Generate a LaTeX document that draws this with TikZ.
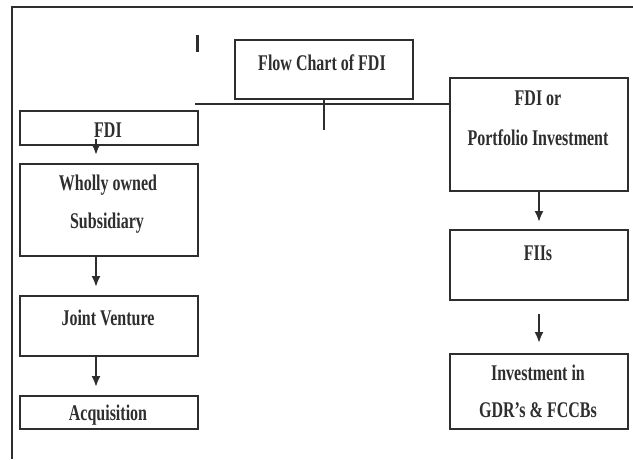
\documentclass[tikz,border=0pt]{standalone}
\usepackage{fontspec}
\setmainfont{Liberation Serif}
\usetikzlibrary{arrows.meta}
\definecolor{linec}{HTML}{2E2E2E}
\newcommand{\vst}[1]{\scalebox{1}[1.4]{#1}}
\begin{document}
\begin{tikzpicture}[x=1pt,y=-1pt,
  box/.style={draw=linec, line width=2pt, minimum width=178pt, inner sep=0pt, anchor=north west},
  txt/.style={anchor=base, inner sep=0pt, text=linec, font=\fontsize{16pt}{19pt}\selectfont\bfseries},
  conn/.style={draw=linec, line width=2pt},
  arr/.style={conn, -{Latex[length=11pt,width=9pt]}}
]
\useasboundingbox (0,0) rectangle (633,459);
% frame
\draw[linec, line width=1.5pt] (12,459) -- (12,7) -- (633,7);
\draw[linec, line width=3pt] (197,35) -- (197,52);
% boxes
\node[box, minimum height=59pt] (flow) at (234,39) {};
\node[box, minimum height=34pt] (fdi) at (19,110) {};
\node[box, minimum height=113pt] (pi) at (449,77) {};
\node[box, minimum height=92pt] (wos) at (19,163) {};
\node[box, minimum height=60pt] (jv) at (19,295) {};
\node[box, minimum height=33pt] (acq) at (19,395) {};
\node[box, minimum height=70pt] (fii) at (449,229) {};
\node[box, minimum height=75pt] (inv) at (449,353) {};
% texts
\node[txt] (tflow) at (322,70) {\vst{Flow Chart of FDI}};
\node[txt] (tfdi) at (108,137) {\vst{FDI}};
\node[txt] (tpi1) at (538,105) {\vst{FDI or}};
\node[txt] (tpi2) at (538,145) {\vst{Portfolio Investment}};
\node[txt] (twos1) at (108,190) {\vst{Wholly owned}};
\node[txt] (twos2) at (107,228) {\vst{Subsidiary}};
\node[txt] (tjv) at (108,325) {\vst{Joint Venture}};
\node[txt] (tacq) at (108,420) {\vst{Acquisition}};
\node[txt] (tfii) at (538,260) {\vst{FIIs}};
\node[txt] (tinv1) at (538,380) {\vst{Investment in}};
\node[txt] (tinv2) at (538,417) {\vst{GDR’s \& FCCBs}};
% connectors
\coordinate (hl) at (195,104);
\draw[conn] (hl) -- (hl -| pi.west);
\draw[conn] (flow.south) -- ++(0,30);
\draw[arr, shorten >=8pt] ([xshift=-13pt,yshift=7pt]fdi.south) -- ([xshift=-13pt]wos.north);
\draw[arr, shorten >=8pt] ([xshift=-13pt]wos.south) -- ([xshift=-13pt]jv.north);
\draw[arr, shorten >=8pt] ([xshift=-13pt]jv.south) -- ([xshift=-13pt]acq.north);
\draw[arr, shorten >=7pt] (pi.south) -- (fii.north);
\draw[arr, shorten <=13pt, shorten >=10pt] (fii.south) -- (inv.north);
\end{tikzpicture}
\end{document}
